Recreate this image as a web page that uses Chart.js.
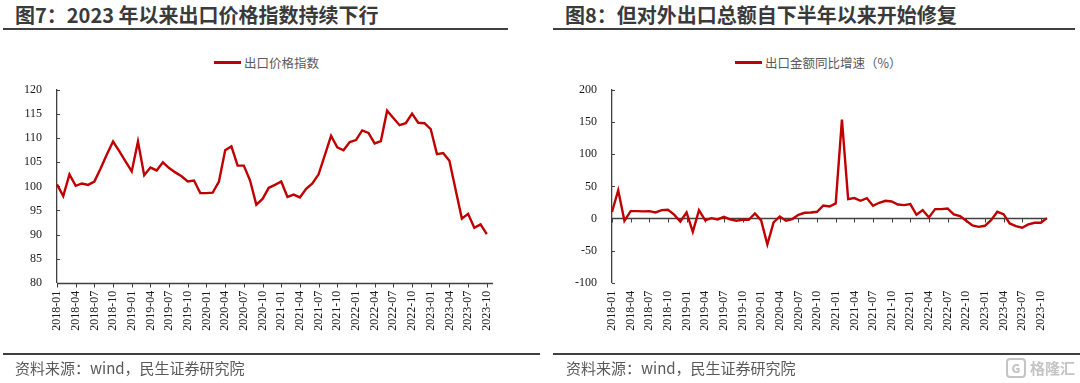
<!DOCTYPE html>
<html>
<head>
<meta charset="utf-8">
<script src="https://cdn.jsdelivr.net/npm/chart.js@4.4.0/dist/chart.umd.min.js"></script>
<style>
  body { margin: 0; background: #fff; width: 1080px; height: 383px; overflow: hidden; position: relative; font-family: "Noto Sans CJK SC", sans-serif; }
  canvas { position: absolute; top: 0; }
  .title { position: absolute; top: 2px; font-size: 20px; font-weight: bold; color: #3a3a3a; line-height: 26px; white-space: nowrap; }
  .rule { position: absolute; height: 2px; background: #404040; }
  .legend { position: absolute; top: 54px; height: 17px; display: flex; align-items: center; font-size: 12.5px; color: #595959; white-space: nowrap; }
  .legend i { display: inline-block; width: 27px; height: 2.5px; background: #c00000; margin-right: 3px; }
  .src { position: absolute; top: 358px; font-size: 15px; line-height: 20px; color: #595959; white-space: nowrap; }
  .mark { position: absolute; left: 1006px; top: 357px; width: 72px; display: flex; align-items: center; color: #c4c4c4; font-size: 15px; font-weight: bold; white-space: nowrap; }
  .mark b { flex: none; display: inline-block; width: 16px; height: 16px; border: 2px solid #c4c4c4; border-radius: 4px; font-size: 12px; line-height: 16px; text-align: center; margin-right: 4px; }
</style>
</head>
<body>
<div class="title" style="left:15px">图7：2023 年以来出口价格指数持续下行</div>
<div class="rule" style="left:3px;width:505px;top:28px"></div>
<div class="title" style="left:565px">图8：但对外出口总额自下半年以来开始修复</div>
<div class="rule" style="left:553px;width:522px;top:28px"></div>

<div class="legend" style="left:214px"><i></i>出口价格指数</div>
<div class="legend" style="left:735px"><i></i>出口金额同比增速（%）</div>

<canvas id="priceChart" width="540" height="383" style="left:0"></canvas>
<canvas id="exportChart" width="540" height="383" style="left:540px"></canvas>

<div class="rule" style="left:3px;width:537px;top:353px"></div>
<div class="rule" style="left:553px;width:527px;top:353px"></div>
<div class="src" style="left:15px">资料来源：wind，民生证券研究院</div>
<div class="src" style="left:566px">资料来源：wind，民生证券研究院</div>
<div class="mark"><b>G</b>格隆汇</div>

<script>
// month labels, 2018-01 .. 2023-11
var months = [
  "2018-01","2018-02","2018-03","2018-04","2018-05","2018-06","2018-07","2018-08","2018-09","2018-10","2018-11","2018-12",
  "2019-01","2019-02","2019-03","2019-04","2019-05","2019-06","2019-07","2019-08","2019-09","2019-10","2019-11","2019-12",
  "2020-01","2020-02","2020-03","2020-04","2020-05","2020-06","2020-07","2020-08","2020-09","2020-10","2020-11","2020-12",
  "2021-01","2021-02","2021-03","2021-04","2021-05","2021-06","2021-07","2021-08","2021-09","2021-10","2021-11","2021-12",
  "2022-01","2022-02","2022-03","2022-04","2022-05","2022-06","2022-07","2022-08","2022-09","2022-10","2022-11","2022-12",
  "2023-01","2023-02","2023-03","2023-04","2023-05","2023-06","2023-07","2023-08","2023-09","2023-10","2023-11"
];

// 出口价格指数 (to 2023-10)
var priceIndex = [
  100.4, 98.0, 102.5, 100.1, 100.6, 100.3, 101.0, 103.7, 106.6, 109.3, 107.3, 105.2,
  103.1, 109.3, 102.3, 103.9, 103.3, 105.0, 103.8, 102.9, 102.1, 101.0, 101.2, 98.6,
  98.6, 98.7, 101.0, 107.5, 108.3, 104.3, 104.3, 101.2, 96.2, 97.4, 99.7, 100.3,
  101.0, 97.8, 98.3, 97.7, 99.5, 100.6, 102.5, 106.5, 110.5, 108.1, 107.5, 109.2,
  109.6, 111.6, 111.1, 108.9, 109.4, 115.7, 114.2, 112.7, 113.1, 115.1, 113.2, 113.1,
  111.9, 106.7, 106.9, 105.3, 99.3, 93.3, 94.3, 91.4, 92.1, 90.1
];

// 出口金额同比增速（%）
var exportGrowth = [
  10, 44, -3.6, 11.4, 11.4, 11, 11.4, 9.3, 13, 13.5, 6, -4.7,
  9.3, -20.8, 13, -3, 0.5, -1.5, 2.6, -1.5, -3.6, -2, -2, 7.8,
  -3, -40.5, -6.2, 3.1, -3.6, -1, 5.7, 8.8, 9.3, 10.4, 20.2, 18.7,
  23.4, 154, 30, 31.7, 27.5, 31.7, 19.7, 24.4, 27.5, 26.5, 21.8, 20.8,
  22.3, 5.7, 13, 1.6, 14.5, 14.5, 15.6, 6.2, 3.6, -3.6, -10.9, -13,
  -11.4, -2.6, 10.4, 6.7, -7.8, -11.9, -14.5, -9.3, -6.7, -6.7, 0.5
];

var lineColor = "#c00000";
var axisColor = "#404040";
var serifFamily = "'Liberation Serif', 'Times New Roman', serif";
Chart.defaults.font.family = serifFamily;
var tickFont = { family: serifFamily, size: 12 };

// axis line through the base value, tick marks every quarter, y ticks pointing inward
var axisMarks = {
  id: "axisMarks",
  beforeDatasetsDraw: function(chart, args, opts) {
    var ctx = chart.ctx, a = chart.chartArea;
    var x = chart.scales.x, y = chart.scales.y;
    ctx.save();
    ctx.strokeStyle = axisColor;
    ctx.lineWidth = 1;
    y.ticks.forEach(function(t) {
      var py = Math.round(y.getPixelForValue(t.value)) + 0.5;
      ctx.beginPath();
      ctx.moveTo(a.left, py);
      ctx.lineTo(a.left + 3, py);
      ctx.stroke();
    });
    var by = Math.round(y.getPixelForValue(opts.base)) + 0.5;
    ctx.lineWidth = 1.3;
    ctx.beginPath();
    ctx.moveTo(a.left, by);
    ctx.lineTo(a.right, by);
    ctx.stroke();
    ctx.lineWidth = 1;
    for (var i = 0; i < x.ticks.length; i += 3) {
      var px = Math.round(x.getPixelForTick(i)) + 0.5;
      ctx.beginPath();
      ctx.moveTo(px, by);
      ctx.lineTo(px, by + 4);
      ctx.stroke();
    }
    ctx.restore();
  }
};

function makeChart(id, values, yMin, yMax, step, base, pad) {
  return new Chart(id, {
    type: "line",
    data: {
      labels: months,
      datasets: [{
        data: values,
        borderColor: lineColor,
        borderWidth: 2.4,
        pointRadius: 0,
        tension: 0,
        fill: false
      }]
    },
    options: {
      responsive: false,
      animation: false,
      layout: { padding: pad },
      plugins: {
        legend: { display: false },
        tooltip: { enabled: false },
        axisMarks: { base: base }
      },
      scales: {
        x: {
          offset: false,
          grid: { display: false, drawTicks: false },
          border: { display: false },
          ticks: {
            autoSkip: false,
            minRotation: 90,
            maxRotation: 90,
            padding: 8,
            color: "#1a1a1a",
            font: tickFont,
            callback: function(v, i) { return i % 3 === 0 ? months[i] : ""; }
          },
          afterFit: function(s) { s.height = 60; }
        },
        y: {
          min: yMin,
          max: yMax,
          grid: { display: false, drawTicks: false },
          border: { display: true, color: axisColor, width: 1.3 },
          ticks: {
            stepSize: step,
            padding: 15,
            color: "#1a1a1a",
            font: tickFont
          },
          afterFit: function(s) { s.width = 57; }
        }
      }
    },
    plugins: [axisMarks]
  });
}

makeChart("priceChart", priceIndex, 80, 120, 5, 80, { left: 0, right: 47, top: 90, bottom: 40.3 });
makeChart("exportChart", exportGrowth, -100, 200, 50, 0, { left: 15, right: 33, top: 90, bottom: 40.3 });
</script>
</body>
</html>
